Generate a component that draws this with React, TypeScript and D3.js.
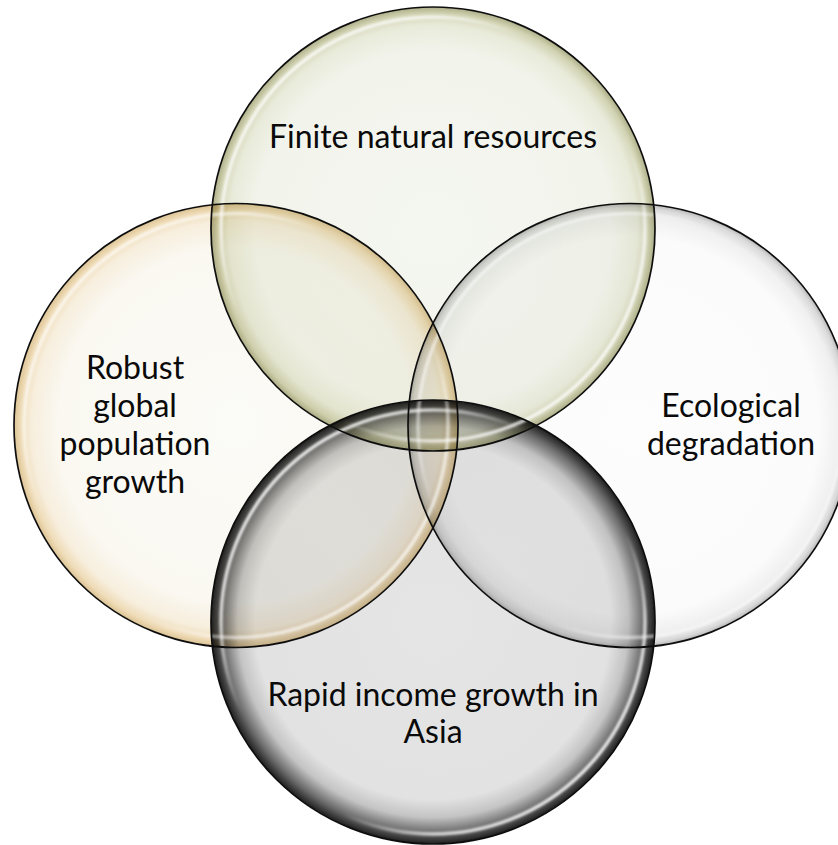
import React from "react";
import * as d3 from "d3";

// ---- data ----
const SET_NAMES = [
  "Finite natural resources",
  "Robust global population growth",
  "Ecological degradation",
  "Rapid income growth in Asia",
];
const LABEL_LINES = [
  ["Finite natural resources"],
  ["Robust", "global", "population", "growth"],
  ["Ecological", "degradation"],
  ["Rapid income growth in", "Asia"],
];
const GRID_X = [0, -1, 1, 0];
const GRID_Y = [-1, 0, 0, 1];

// ---- styles ----
const FILL_STOPS: [number, string][][] = [
  [[0, "#f4f6f0"], [0.8, "#f2f4ec"], [0.92, "#e8ead9"], [0.97, "#d2d3b3"], [1, "#aeaf88"]],
  [[0, "#fbfbf7"], [0.8, "#faf8f1"], [0.92, "#f7eedd"], [0.97, "#efdcb8"], [1, "#dcc394"]],
  [[0, "#fdfdfd"], [0.85, "#fbfbfb"], [0.94, "#f0f0f0"], [0.98, "#dadada"], [1, "#b8b8b8"]],
  [[0, "#e5e5e5"], [0.8, "#e2e2e2"], [0.88, "#c4c4c4"], [0.95, "#6a6a6a"], [1, "#1e1e1e"]],
];
const HIGHLIGHT_OPACITY = [0.95, 0.8, 0.7, 1];

const W = 838;
const H = 845;
const R = 222;

export default function App() {
  const x = d3.scaleLinear().domain([-1, 1]).range([236, 630]);
  const y = d3.scaleLinear().domain([-1, 1]).range([229, 622]);
  const lh = 37.7;

  const circles = SET_NAMES.map((name, i) => ({
    name,
    i,
    cx: x(GRID_X[i]),
    cy: y(GRID_Y[i]),
  }));

  return (
    <svg
      width={W}
      height={H}
      viewBox={`0 0 ${W} ${H}`}
      style={{ position: "absolute", left: 0, top: 0, background: "#fff" }}
    >
      <defs>
        {circles.map((c) => (
          <radialGradient key={"g" + c.i} id={`fill${c.i}`} cx="50%" cy="50%" r="50%">
            {FILL_STOPS[c.i].map(([o, col], k) => (
              <stop key={k} offset={o} stopColor={col} />
            ))}
          </radialGradient>
        ))}
        <linearGradient id="hl" x1="0" y1="0" x2="1" y2="1">
          <stop offset="0" stopColor="#fff" stopOpacity={1} />
          <stop offset="0.25" stopColor="#fff" stopOpacity={0.7} />
          <stop offset="0.38" stopColor="#fff" stopOpacity={0} />
          <stop offset="0.62" stopColor="#fff" stopOpacity={0} />
          <stop offset="0.75" stopColor="#fff" stopOpacity={0.7} />
          <stop offset="1" stopColor="#fff" stopOpacity={1} />
        </linearGradient>
        <filter id="soft" x="-10%" y="-10%" width="120%" height="120%">
          <feGaussianBlur stdDeviation="1.2" />
        </filter>
        <filter id="edge" x="-10%" y="-10%" width="120%" height="120%">
          <feGaussianBlur stdDeviation="0.35" />
        </filter>
      </defs>

      <g style={{ isolation: "isolate" }}>
        <rect width={W} height={H} fill="#fff" />
        {circles.map((c) => (
          <circle
            key={"f" + c.i}
            cx={c.cx}
            cy={c.cy}
            r={R}
            fill={`url(#fill${c.i})`}
            style={{ mixBlendMode: "multiply" }}
          />
        ))}
      </g>

      {circles.map((c) => (
        <circle
          key={"h" + c.i}
          cx={c.cx}
          cy={c.cy}
          r={R - 10}
          fill="none"
          stroke="url(#hl)"
          strokeWidth={3.5}
          opacity={HIGHLIGHT_OPACITY[c.i]}
          filter="url(#soft)"
        />
      ))}

      {circles.map((c) => (
        <circle
          key={"s" + c.i}
          cx={c.cx}
          cy={c.cy}
          r={R}
          fill="none"
          stroke="#111"
          strokeWidth={1.7}
          filter="url(#edge)"
        />
      ))}

      {circles.map((c) => {
        const lines = LABEL_LINES[c.i];
        const lx = c.cx + GRID_X[c.i] * 101;
        const ly = c.cy + GRID_Y[c.i] * 92;
        return (
          <text
            key={"t" + c.i}
            textAnchor="middle"
            fontFamily="Lato, 'Open Sans', sans-serif"
            fontSize={32}
            fill="#0a0a0a"
          >
            {lines.map((ln, k) => (
              <tspan key={k} x={lx} y={ly + (k - (lines.length - 1) / 2) * lh + 10.5}>
                {ln}
              </tspan>
            ))}
          </text>
        );
      })}
    </svg>
  );
}
